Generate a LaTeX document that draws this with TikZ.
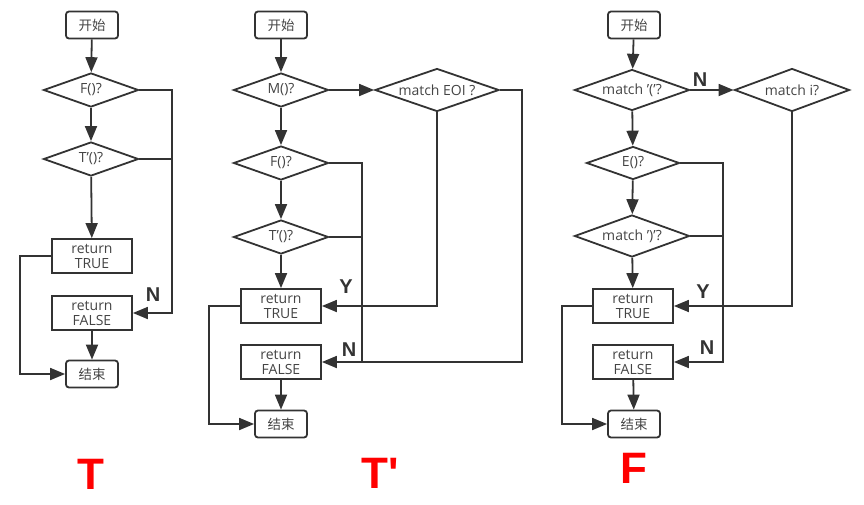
\documentclass[tikz,border=0pt]{standalone}
\usepackage{fontspec}
\setmainfont{Open Sans}
\newfontfamily\cjk{Noto Sans CJK SC}
\newfontfamily\lab{Liberation Sans}
\usetikzlibrary{shapes.geometric,arrows.meta}
\definecolor{ln}{HTML}{333333}
\definecolor{tx}{HTML}{444444}
\begin{document}
\begin{tikzpicture}[x=1pt,y=-1pt,
  every node/.style={text=tx,font=\fontsize{14}{14.5}\selectfont},
  term/.style={draw=ln,line width=1.8pt,rounded corners=3pt,minimum width=52,minimum height=27,inner sep=0pt,font=\cjk\fontsize{13.5}{14}\selectfont},
  proc/.style={draw=ln,line width=1.8pt,minimum width=80,minimum height=34,inner sep=0pt,align=center,font=\fontsize{14}{15}\selectfont},
  dia/.style={draw=ln,line width=1.8pt,diamond,inner sep=0pt,minimum width=95,minimum height=34},
  conn/.style={draw=ln,line width=1.8pt},
  arr/.style={conn,-{Triangle[length=15pt,width=12pt]}},
  yn/.style={font=\lab\bfseries\fontsize{20}{20}\selectfont,text=ln},
  big/.style={font=\lab\bfseries\fontsize{44}{46}\selectfont,text=red}]
\useasboundingbox (0,0) rectangle (864,504);

% ---------------- T ----------------
\node[term] (s1) at (92,25) {开始};
\node[dia,label=center:{F()?}] (f1) at (91,90) {};
\node[dia,label=center:{T'()?}] (t1) at (91,159) {};
\node[proc] (rt1) at (92,256) {return\\TRUE};
\node[proc] (rf1) at (92,313) {return\\FALSE};
\node[term] (e1) at (92,374) {结束};
\coordinate (r1) at (172,0);
\coordinate (l1) at (20,0);
\draw[arr] (s1) -- (f1);
\draw[arr] (f1) -- (t1);
\draw[arr] (t1) -- (rt1);
\draw[arr] (rf1) -- (e1);
\draw[arr] (f1.east) -- (f1.east -| r1) -- (rf1.east -| r1) -- (rf1.east);
\draw[conn] (t1.east) -- (t1.east -| r1);
\draw[arr] (rt1.west) -- (rt1.west -| l1) -- (e1.west -| l1) -- (e1.west);
\node[yn] (n1) at (153,295) {N};
\node[big] (T1) at (91,474) {T};

% ---------------- T' ----------------
\node[term] (s2) at (281,25) {开始};
\node[dia,label=center:{M()?}] (m2) at (281,90) {};
\node[dia,minimum width=124,minimum height=43,label=center:{match EOI ?}] (eoi) at (437,90) {};
\node[dia,label=center:{F()?}] (f2) at (281,163) {};
\node[dia,label=center:{T'()?}] (t2) at (281,237) {};
\node[proc] (rt2) at (281,306) {return\\TRUE};
\node[proc] (rf2) at (281,362) {return\\FALSE};
\node[term] (e2) at (281,424) {结束};
\coordinate (r2) at (362,0);
\coordinate (rr2) at (522,0);
\coordinate (l2) at (209,0);
\draw[arr] (s2) -- (m2);
\draw[arr] (m2) -- (f2);
\draw[arr] (f2) -- (t2);
\draw[arr] (t2) -- (rt2);
\draw[arr] (rf2) -- (e2);
\draw[arr] (m2.east) -- (eoi.west);
\draw[arr] (eoi.south) -- (eoi.south |- rt2.east) -- (rt2.east);
\draw[arr] (eoi.east) -- (eoi.east -| rr2) -- (rf2.east -| rr2) -- (rf2.east);
\draw[conn] (f2.east) -- (f2.east -| r2) -- (rf2.east -| r2);
\draw[conn] (t2.east) -- (t2.east -| r2);
\draw[arr] (rt2.west) -- (rt2.west -| l2) -- (e2.west -| l2) -- (e2.west);
\node[yn] (y2) at (346,287) {Y};
\node[yn] (n2) at (349,350) {N};
\node[big] (T2) at (380,473) {T'};

% ---------------- F ----------------
\node[term] (s3) at (634,25) {开始};
\node[dia,minimum width=115,minimum height=41,label=center:{match '('?}] (p3) at (632,90) {};
\node[dia,minimum width=115,minimum height=43,label=center:{match i?}] (i3) at (792,90) {};
\node[dia,minimum width=93,minimum height=33,label=center:{E()?}] (e3) at (633,163) {};
\node[dia,minimum width=115,minimum height=42,label=center:{match ')'?}] (q3) at (632,236) {};
\node[proc] (rt3) at (633,306) {return\\TRUE};
\node[proc] (rf3) at (633,362) {return\\FALSE};
\node[term] (en3) at (634,424) {结束};
\coordinate (r3) at (723,0);
\coordinate (l3) at (562,0);
\draw[arr] (s3) -- (p3);
\draw[arr] (p3) -- (e3);
\draw[arr] (e3) -- (q3);
\draw[arr] (q3) -- (rt3);
\draw[arr] (rf3) -- (en3);
\draw[arr] (p3.east) -- (i3.west);
\draw[arr] (i3.south) -- (i3.south |- rt3.east) -- (rt3.east);
\draw[arr] (e3.east) -- (e3.east -| r3) -- (rf3.east -| r3) -- (rf3.east);
\draw[conn] (q3.east) -- (q3.east -| r3);
\draw[arr] (rt3.west) -- (rt3.west -| l3) -- (en3.west -| l3) -- (en3.west);
\node[yn] (n3a) at (700,80) {N};
\node[yn] (y3) at (703,292) {Y};
\node[yn] (n3) at (707,348) {N};
\node[big] (F3) at (634,468) {F};
\end{tikzpicture}
\end{document}
